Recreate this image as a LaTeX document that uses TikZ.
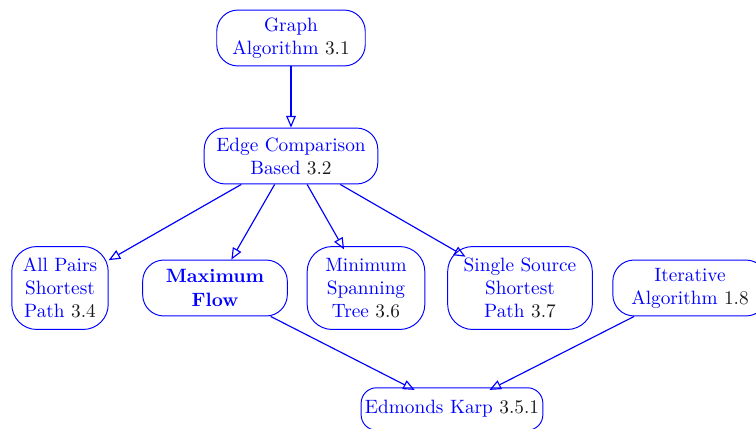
\documentclass[tikz,border=0pt]{standalone}
\usepackage{xcolor}
\usepackage{tikz}
\usetikzlibrary{arrows.meta,positioning}
\definecolor{algblue}{HTML}{0000FF}
\definecolor{secnum}{HTML}{1A1A1A}
\newcommand{\secno}[1]{\textcolor{secnum}{#1}}
\tikzset{
  algo/.style={draw=#1, line width=0.5pt, rounded corners=11pt, text=#1, align=center,
               inner xsep=2pt, inner ysep=3pt, minimum height=29pt},
  flow/.style={-{Triangle[open, length=6pt, width=5pt]}, line width=0.6pt, draw=#1}
}

\begin{document}
\begin{tikzpicture}[x=0.5185pt, y=-0.5185pt]
  \useasboundingbox (0,0) rectangle (756,428);
  % top of the tree
  \node[algo=algblue, minimum width=77pt] (graph) at (291,38)
    {Graph\\Algorithm \secno{3.1}};
  \node[algo=algblue, minimum width=90pt] (ecb) at (291,156)
    {Edge Comparison\\Based \secno{3.2}};
  % row of chapters
  \node[algo=algblue, minimum width=50pt, minimum height=43pt, rounded corners=13pt] (apsp) at (60,288)
    {All Pairs\\Shortest\\Path \secno{3.4}};
  \node[algo=algblue, minimum width=75pt] (maxflow) at (215,288)
    {\textbf{Maximum}\\\textbf{Flow}};
  \node[algo=algblue, minimum width=61pt, minimum height=43pt, rounded corners=13pt] (mst) at (366,288)
    {Minimum\\Spanning\\Tree \secno{3.6}};
  \node[algo=algblue, minimum width=75pt, minimum height=43pt, rounded corners=13pt] (sssp) at (520,288)
    {Single Source\\Shortest\\Path \secno{3.7}};
  \node[algo=algblue, minimum width=80pt] (iter) at (690,288)
    {Iterative\\Algorithm \secno{1.8}};
  % bottom
  \node[algo=algblue, minimum width=94pt, minimum height=22pt, rounded corners=8pt] (ek) at (452,409)
    {Edmonds Karp \secno{3.5.1}};
  \draw[flow=algblue] (graph) -- (ecb);
  \draw[flow=algblue] (ecb) -- (apsp);
  \draw[flow=algblue] (ecb) -- (maxflow);
  \draw[flow=algblue, shorten >=-2pt] (ecb) -- (mst);
  \draw[flow=algblue, shorten >=-11pt] (ecb) -- (sssp);
  \draw[flow=algblue, shorten >=-3pt] (maxflow) -- (ek);
  \draw[flow=algblue, shorten >=-3pt] (iter) -- (ek);
\end{tikzpicture}
\end{document}
